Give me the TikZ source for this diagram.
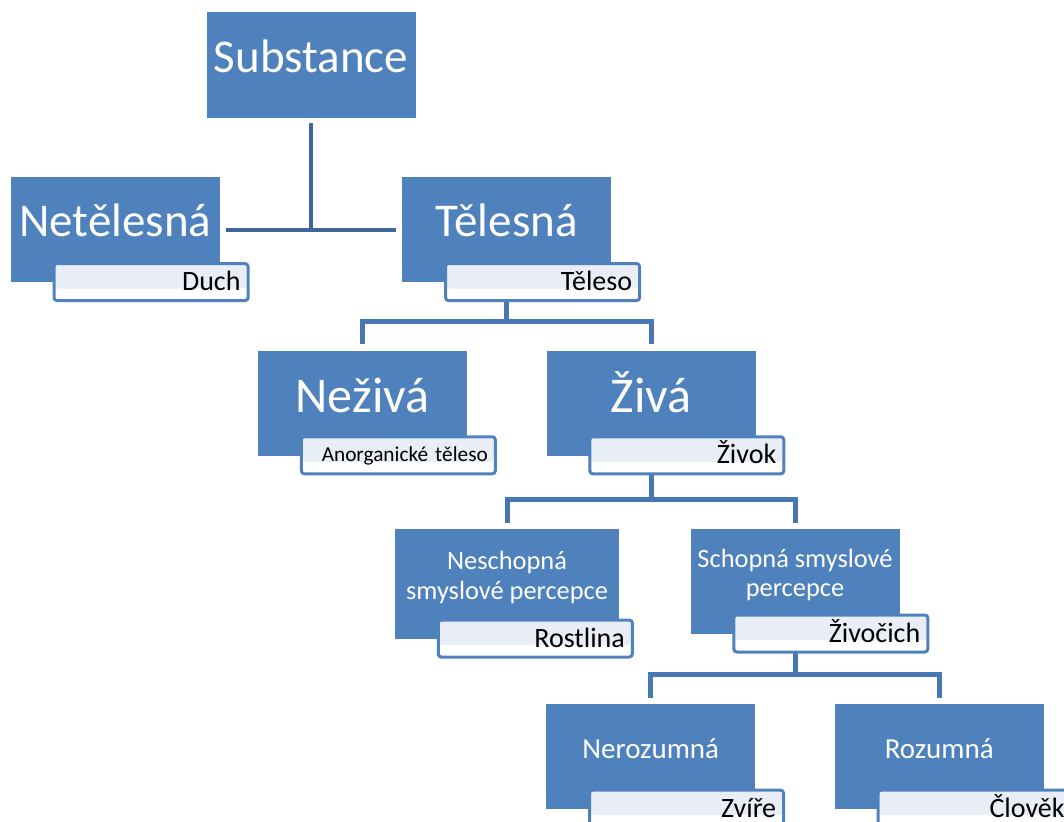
\documentclass[tikz,border=0pt]{standalone}
\usepackage{fontspec}
\setmainfont{Carlito}
\usetikzlibrary{trees}
\definecolor{boxblue}{HTML}{4F81BD}
\definecolor{linkblue}{HTML}{4878B4}
\definecolor{topline}{HTML}{3E6898}
\definecolor{subband}{HTML}{E9EEF6}
\tikzset{
  lvbox/.style = {fill=boxblue, minimum width=209pt, minimum height=105pt, inner sep=0pt, anchor=north},
  bigtext/.style = {text=white, font=\fontsize{47}{56}\selectfont, text height=34pt, text depth=0pt, yshift=10pt},
  midtext/.style = {text=white, font=\fontsize{50}{60}\selectfont, text height=36pt, text depth=0pt, yshift=8.5pt},
  twoline/.style = {text=white, font=\fontsize{26.4}{29.5}\selectfont, align=center, yshift=6.5pt},
  smalltext/.style = {text=white, font=\fontsize{29}{35}\selectfont, text height=21pt, text depth=0pt, yshift=9pt},
  subbox/.style = {draw=boxblue, line width=3pt, rounded corners=3pt, fill=white,
    minimum width=194pt, minimum height=37pt, inner xsep=7.5pt, inner ysep=0pt,
    text width=179pt, align=right,
    path picture={\fill[subband] ([shift={(1.5pt,-1.5pt)}]path picture bounding box.north west)
      rectangle ([shift={(-1.5pt,-25pt)}]path picture bounding box.north east);}},
  subtext/.style = {font=\fontsize{28}{32}\selectfont, text height=20pt, text depth=3pt},
  subsmall/.style = {font=\fontsize{21.3}{25}\selectfont, text height=15pt, text depth=2.4pt},
  topleft/.style = {edge from parent/.style={draw=topline, line width=4.5pt},
    edge from parent path={([yshift=-5pt]\tikzparentnode.south) |- ([xshift=6pt]\tikzchildnode.east)}},
  topright/.style = {edge from parent/.style={draw=topline, line width=4.5pt},
    edge from parent path={([yshift=-5pt]\tikzparentnode.south) |- ([xshift=-6pt]\tikzchildnode.west)}},
  lowedge/.style = {edge from parent/.style={draw=linkblue, line width=5pt},
    edge from parent path={(\tikzparentnode.south) |- ([yshift=29pt]\tikzchildnode.north)
      -- ([yshift=6pt]\tikzchildnode.north)}},
}

\begin{document}
\begin{tikzpicture}[
  x=1pt, y=1pt,
  level 1/.style = {sibling distance=391.5pt, level distance=112pt},
  level 2/.style = {lowedge, sibling distance=288.5pt, level distance=120.5pt},
  level 3/.style = {lowedge, sibling distance=288pt, level distance=125.5pt},
  level 4/.style = {lowedge, sibling distance=288.5pt, level distance=122.5pt},
 ]
 \useasboundingbox (0,0) rectangle (1064,-821);

 \node[lvbox, minimum height=106pt, label={[bigtext]center:Substance}] (substance) at (311,-12) {}
 child[topleft] {node[lvbox, label={[bigtext]center:Netělesná}] (netelesna) {}}
 child[topright] {node[lvbox, label={[bigtext]center:Tělesná}] (telesna) {}
   child {node[lvbox, label={[midtext]center:Neživá}] (neziva) {}}
   child {node[lvbox, label={[midtext]center:Živá}] (ziva) {}
     child {node[lvbox, minimum width=224pt, minimum height=110pt,
       label={[twoline]center:Neschopná\\smyslové percepce}] (neschopna) {}}
     child {node[lvbox, label={[twoline]center:Schopná smyslové\\percepce}] (schopna) {}
       child {node[lvbox, label={[smalltext]center:Nerozumná}] (nerozumna) {}}
       child {node[lvbox, label={[smalltext]center:Rozumná}] (rozumna) {}}
     }
   }
  };

 % captions under the boxes
 \foreach \boxname/\subword/\substyle in {netelesna/Duch/subtext, telesna/Těleso/subtext,
   neziva/Anorganické těleso/subsmall, ziva/Živok/subtext, neschopna/Rostlina/subtext,
   schopna/Živočich/subtext, nerozumna/Zvíře/subtext, rozumna/Člověk/subtext}
   \node[subbox, \substyle, anchor=north west] (\boxname-sub)
     at ([xshift=42pt, yshift=20.5pt]\boxname.south west) {\subword};

\end{tikzpicture}
\end{document}
